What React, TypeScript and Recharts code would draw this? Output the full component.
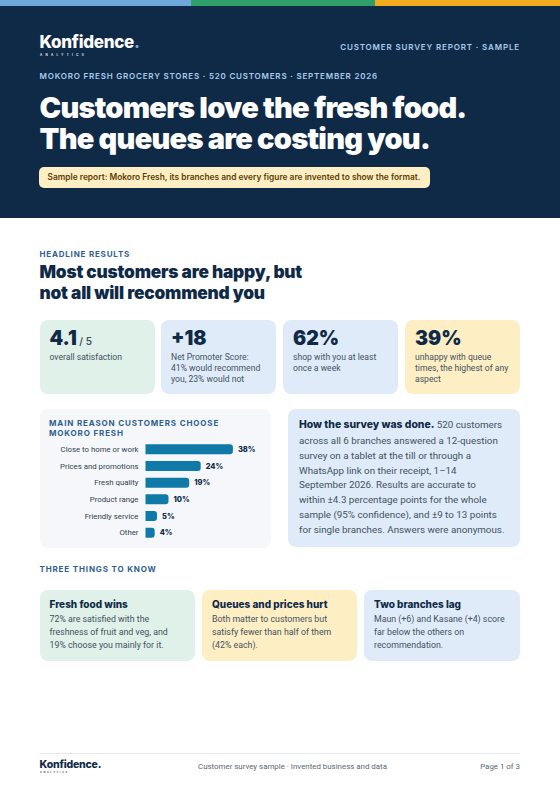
import { BarChart, Bar, XAxis, YAxis, LabelList } from "recharts";

const reasons = ["Close to home or work", "Prices and promotions", "Fresh quality", "Product range", "Friendly service", "Other"];
const shares = [38, 24, 19, 10, 5, 4];
const chartData = reasons.map((name, i) => ({ name, share: shares[i] }));

const NAVY = "#0f2a47";
const BODY = "#44525f";
const SANS = "Inter, sans-serif";
const TEXT = "Roboto, sans-serif";

function T({ x, y, size, weight = 400, color = BODY, ls = 0, lh = 1, right, children }: any) {
  const pos: any = right !== undefined ? { right } : { left: x };
  return (
    <div style={{ position: "absolute", top: y, ...pos, fontSize: size, fontWeight: weight, color, letterSpacing: ls, lineHeight: lh, whiteSpace: "nowrap", fontFamily: weight >= 600 ? SANS : TEXT }}>
      {children}
    </div>
  );
}

function Box({ x, y, w, h, bg, r = 8 }: any) {
  return <div style={{ position: "absolute", left: x, top: y, width: w, height: h, background: bg, borderRadius: r }} />;
}

function Stat({ x, bg, value, suffix, lines }: any) {
  return (
    <>
      <Box x={x} y={320} w={115} h={74} bg={bg} />
      <T x={x + 10} y={328.5} size={19.5} weight={900} color={NAVY}>
        {value}
        {suffix && <span style={{ fontSize: 10, fontWeight: 600, color: BODY }}> {suffix}</span>}
      </T>
      {lines.map((l: string, i: number) => (
        <T key={l} x={x + 10} y={352.5 + i * 11.4} size={8.6}>{l}</T>
      ))}
    </>
  );
}

function Know({ x, w, bg, title, lines }: any) {
  return (
    <>
      <Box x={x} y={590} w={w} h={71} bg={bg} />
      <T x={x + 10} y={599} size={10} weight={800} color={NAVY}>{title}</T>
      {lines.map((l: string, i: number) => (
        <T key={l} x={x + 10} y={614.5 + i * 13.2} size={8.8}>{l}</T>
      ))}
    </>
  );
}

function ReasonTick({ x, y, payload }: any) {
  return (
    <text x={x} y={y} dy="0.35em" textAnchor="end" fontSize={7.8} fill="#33414e" fontFamily={TEXT}>
      {payload.value}
    </text>
  );
}

const method = [
  "across all 6 branches answered a 12-question",
  "survey on a tablet at the till or through a",
  "WhatsApp link on their receipt, 1–14",
  "September 2026. Results are accurate to",
  "within ±4.3 percentage points for the whole",
  "sample (95% confidence), and ±9 to 13 points",
  "for single branches. Answers were anonymous.",
];

export default function App() {
  return (
    <div style={{ position: "absolute", left: 0, top: 0, width: 560, height: 792, background: "#fff", overflow: "hidden" }}>
      <Box x={0} y={0} w={560} h={218} bg={NAVY} r={0} />
      <Box x={0} y={0} w={191} h={6} bg="#6fa8dc" r={0} />
      <Box x={191} y={0} w={184} h={6} bg="#2e9e6b" r={0} />
      <Box x={375} y={0} w={185} h={6} bg="#f0ab1e" r={0} />

      <T x={39.5} y={34} size={17} weight={800} color="#fff" ls={-0.3}>Konfidence<span style={{ color: "#6fa8dc" }}>.</span></T>
      <T x={40} y={54} size={3} weight={600} color="#fff" ls={3.3}>ANALYTICS</T>
      <T right={40} y={42.5} size={8} weight={600} color="#a9cbec" ls={0.85}>CUSTOMER SURVEY REPORT · SAMPLE</T>
      <T x={39.5} y={71.5} size={8} weight={600} color="#a9cbec" ls={0.8}>MOKORO FRESH GROCERY STORES · 520 CUSTOMERS · SEPTEMBER 2026</T>
      <T x={39.5} y={92} size={29} weight={900} color="#fff" ls={-0.75} lh="31px">
        Customers love the fresh food.<br />The queues are costing you.
      </T>
      <Box x={39} y={167} w={391} h={21} bg="#fdeec4" r={5} />
      <T x={47.5} y={173} size={8.4} weight={600} color="#5c3d05">Sample report: Mokoro Fresh, its branches and every figure are invented to show the format.</T>

      <T x={39.5} y={250} size={8} weight={700} color="#2f5f8f" ls={0.8}>HEADLINE RESULTS</T>
      <T x={39.5} y={263} size={17.3} weight={900} color={NAVY} ls={-0.2}>Most customers are happy, but</T>
      <T x={39.5} y={284} size={17.3} weight={900} color={NAVY} ls={-0.2}>not all will recommend you</T>

      <Stat x={39.5} bg="#dff1e8" value="4.1" suffix="/ 5" lines={["overall satisfaction"]} />
      <Stat x={161} bg="#dfebf8" value="+18" lines={["Net Promoter Score:", "41% would recommend", "you, 23% would not"]} />
      <Stat x={283} bg="#dfebf8" value="62%" lines={["shop with you at least", "once a week"]} />
      <Stat x={405} bg="#fdeec4" value="39%" lines={["unhappy with queue", "times, the highest of any", "aspect"]} />

      <Box x={39.5} y={409} w={231} h={139} bg="#f5f7fa" />
      <T x={49} y={419} size={8} weight={700} color="#2f5f8f" ls={0.85}>MAIN REASON CUSTOMERS CHOOSE</T>
      <T x={49} y={429} size={8} weight={700} color="#2f5f8f" ls={0.85}>MOKORO FRESH</T>
      <div style={{ position: "absolute", left: 40, top: 441 }}>
        <BarChart width={231} height={100} data={chartData} layout="vertical" margin={{ top: 0, right: 33.5, bottom: 0, left: 0 }} barCategoryGap="20%">
          <XAxis type="number" hide domain={[0, 40]} />
          <YAxis type="category" dataKey="name" width={105.5} axisLine={false} tickLine={false} tickMargin={1} tick={<ReasonTick />} interval={0} />
          <Bar dataKey="share" fill="#0f7aa8" radius={[0, 3, 3, 0]} isAnimationActive={false}>
            <LabelList dataKey="share" position="right" offset={5} formatter={(v: any) => `${v}%`} style={{ fontSize: 7.5, fontWeight: 800, fill: NAVY, fontFamily: SANS }} />
          </Bar>
        </BarChart>
      </div>

      <Box x={288} y={409} w={232} h={138} bg="#dfebf8" />
      <T x={299} y={420} size={9.8} color={BODY}><b style={{ color: NAVY, fontWeight: 800, fontFamily: SANS, fontSize: 10.4 }}>How the survey was done.</b> 520 customers</T>
      {method.map((l, i) => (
        <T key={l} x={299} y={436 + i * 14.8} size={9.8} color={BODY}>{l}</T>
      ))}

      <T x={39.5} y={565} size={8} weight={700} color="#2f5f8f" ls={0.85}>THREE THINGS TO KNOW</T>
      <Know x={39.5} w={155.5} bg="#dff1e8" title="Fresh food wins" lines={["72% are satisfied with the", "freshness of fruit and veg, and", "19% choose you mainly for it."]} />
      <Know x={202} w={155} bg="#fdeec4" title="Queues and prices hurt" lines={["Both matter to customers but", "satisfy fewer than half of them", "(42% each)."]} />
      <Know x={364} w={156} bg="#dfebf8" title="Two branches lag" lines={["Maun (+6) and Kasane (+4) score", "far below the others on", "recommendation."]} />

      <Box x={40} y={753} w={480} h={1} bg="#e6eaee" r={0} />
      <T x={39.5} y={760} size={10.5} weight={800} color={NAVY} ls={-0.2}>Konfidence.</T>
      <T x={40} y={772} size={2.5} weight={600} color={NAVY} ls={1.6}>ANALYTICS</T>
      <T x={198} y={763} size={7.9} color="#5b6670">Customer survey sample · Invented business and data</T>
      <T right={40} y={763} size={7.9} color="#5b6670">Page 1 of 3</T>
    </div>
  );
}
